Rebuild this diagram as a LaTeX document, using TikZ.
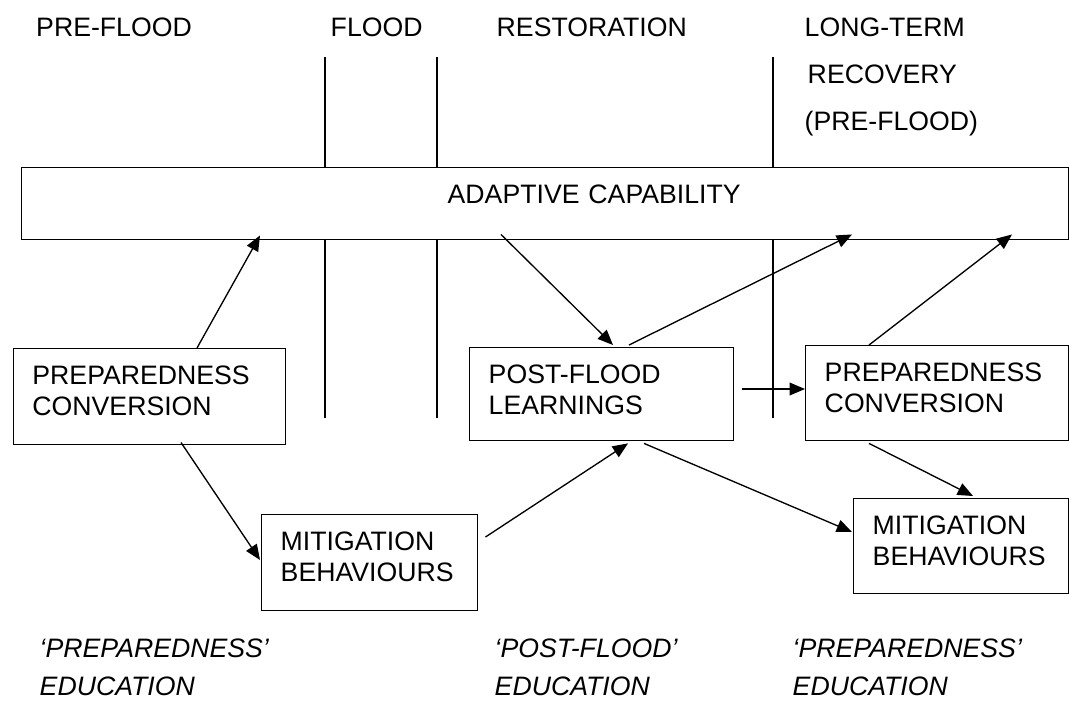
\documentclass[tikz,border=0pt]{standalone}
\usepackage{fontspec}
\setmainfont{Liberation Sans}
\usetikzlibrary{arrows.meta,calc}

\tikzset{every picture/.style={line width=1.1pt}}
\tikzset{
  txt/.style={anchor=base west,inner sep=0pt,align=left,font=\fontsize{20}{23.25}\selectfont},
  box/.style={draw,anchor=north west,align=left,inner xsep=14.25pt,inner ysep=0pt,text height=26.6pt,font=\fontsize{20}{23.25}\selectfont},
  link/.style={-{Triangle[length=11.5pt,width=9.5pt]},line width=1pt}
}

\begin{document}
\begin{tikzpicture}[x=0.75pt,y=0.75pt,yscale=-1,xscale=1]
\useasboundingbox (0,0) rectangle (1069,700);

% Text Node
\node[txt] (prefl) at (35.5,36) {PRE-FLOOD};
% Text Node
\node[txt] (flood) at (330,36) {FLOOD};
% Text Node
\node[txt] (restor) at (496,36) {RESTORATION};
% Text Node
\node[txt,font=\fontsize{20}{35.25}\selectfont] (longterm) at (804,130) {LONG-TERM\\\hspace*{2.25pt}RECOVERY\\(PRE-FLOOD)};

% Text Node
\node[box,inner xsep=0pt,text width=785.5pt,text height=27pt,text depth=27pt] (acap) at (20.7,167) {\hspace*{319.7pt}ADAPTIVE CAPABILITY};
% Text Node
\node[box,text width=175.7pt,text depth=45.4pt] (prepA) at (12.7,348) {PREPAREDNESS\\CONVERSION};
% Text Node
\node[box,text width=169.5pt,text depth=43.1pt] (learn) at (469,347) {POST-FLOOD\\LEARNINGS};
% Text Node
\node[box,text width=168.75pt,text depth=44.6pt] (prepB) at (805,345) {PREPAREDNESS\\CONVERSION};
% Text Node
\node[box,text width=133.5pt,text depth=45.4pt] (mitA) at (261,514) {MITIGATION\\BEHAVIOURS};
% Text Node
\node[box,text width=132.75pt,text depth=44.6pt] (mitB) at (853,498) {MITIGATION\\BEHAVIOURS};

% Phase lines
\foreach \x in {325,437,773} {
  \draw[line width=1pt] (\x,57) -- (\x,0 |- acap.north);
  \draw[line width=1pt] (\x,0 |- acap.south) -- (\x,418);
}

% Connection
\draw[link] ($(prepA.north west)+(184.3,0)$) -- ($(acap.south west)+(239.3,-5)$);
% Connection
\draw[link] ($(acap.south west)+(480.3,-6)$) -- ($(learn.north west)+(144,-2)$);
% Connection
\draw[link] ($(learn.north west)+(160,-2)$) -- ($(acap.south west)+(831.3,-6)$);
% Connection
\draw[link] ($(prepB.north west)+(64,0)$) -- ($(acap.south west)+(991.3,-6)$);
% Connection
\draw[link] ($(prepA.south west)+(168.3,-3)$) -- ($(mitA.north west)+(-1,46)$);
% Connection
\draw[link] ($(mitA.north east)+(7,23)$) -- ($(learn.south west)+(159,2)$);
% Connection
\draw[link] ($(learn.north east)+(8,42)$) -- ($(prepB.north west)+(0,44)$);
% Connection
\draw[link] ($(learn.south west)+(175,2)$) -- ($(mitB.north west)+(-1,34)$);
% Connection
\draw[link] ($(prepB.south west)+(64,2)$) -- ($(mitB.north west)+(120,-2)$);

% Text Node
\node[txt,font=\itshape\fontsize{20}{28.5}\selectfont] (eduA) at (39,695) {‘PREPAREDNESS’\\EDUCATION};
% Text Node
\node[txt,font=\itshape\fontsize{20}{28.5}\selectfont] (eduB) at (494,695) {‘POST-FLOOD’\\EDUCATION};
% Text Node
\node[txt,font=\itshape\fontsize{20}{28.5}\selectfont] (eduC) at (792,695) {‘PREPAREDNESS’\\EDUCATION};

\end{tikzpicture}
\end{document}
